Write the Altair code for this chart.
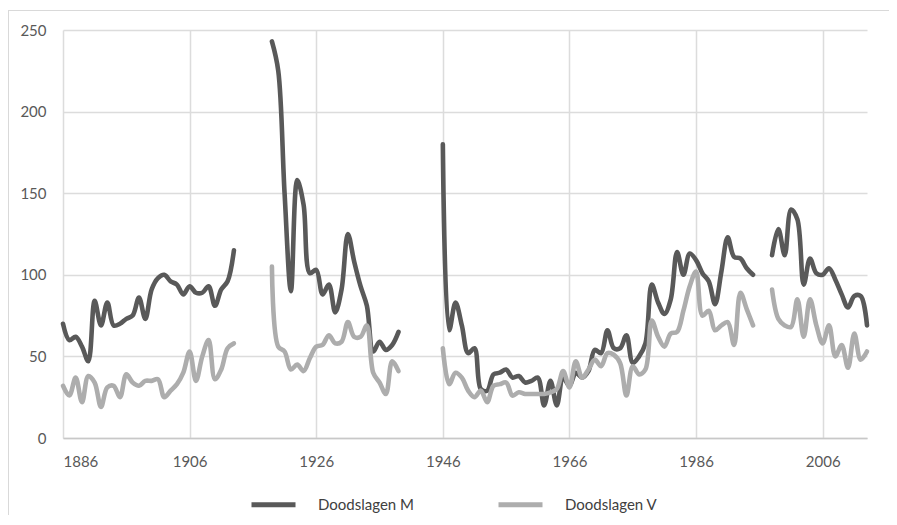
import altair as alt
import pandas as pd

SERIES = ["Doodslagen M", "Doodslagen V"]
COLORS = ["#595959", "#adadad"]

# periods with data (gaps in between)
PERIODS = [(1886, 1913), (1919, 1939), (1946, 1995), (1998, 2013)]

M_1 = [70, 60, 62, 56, 47, 84, 69, 83, 69, 70, 73, 75, 86, 73, 91, 98, 100, 96, 94, 88,
       93, 89, 89, 93, 81, 91, 96, 115]
M_2 = [243, 225, 150, 90, 158, 143, 101, 103, 88, 94, 77, 91, 125, 108, 93, 81, 53, 59, 54, 57, 65]
M_3 = [180, 66, 83, 69, 52, 55, 30, 29, 39, 40, 42, 37, 38, 34, 35, 37, 20, 35, 20, 37,
       32, 40, 37, 41, 54, 52, 66, 55, 55, 63, 46, 50, 58, 94, 83, 76, 85, 114, 100, 113,
       109, 101, 96, 82, 102, 123, 111, 110, 104, 100]
M_4 = [112, 128, 112, 140, 134, 94, 110, 101, 100, 104, 97, 88, 80, 87, 87, 69]

V_1 = [32, 26, 37, 22, 38, 34, 19, 31, 32, 25, 39, 34, 32, 35, 35, 36, 25, 29, 33, 40,
       53, 35, 50, 60, 36, 42, 55, 58]
V_2 = [105, 56, 53, 42, 45, 41, 49, 56, 57, 63, 58, 59, 71, 62, 62, 69, 40, 34, 27, 47, 41]
V_3 = [55, 33, 40, 37, 29, 25, 29, 22, 32, 33, 34, 26, 28, 27, 27, 27, 27, 28, 30, 41,
       31, 47, 37, 42, 48, 44, 52, 51, 46, 26, 44, 39, 42, 72, 62, 56, 64, 65, 78, 93,
       102, 75, 78, 66, 69, 71, 57, 89, 79, 69]
V_4 = [91, 73, 69, 68, 85, 62, 85, 69, 58, 69, 50, 57, 43, 64, 48, 53]

M_PARTS = [M_1, M_2, M_3, M_4]
V_PARTS = [V_1, V_2, V_3, V_4]

X_TICKS = [1886, 1906, 1926, 1946, 1966, 1986, 2006]
Y_TICKS = [0, 50, 100, 150, 200, 250]

rows = []
for seg, ((a, b), m, v) in enumerate(zip(PERIODS, M_PARTS, V_PARTS)):
    yrs = list(range(a, b + 1))
    assert len(yrs) == len(m) == len(v), (a, b, len(m), len(v))
    for yr, mv, vv in zip(yrs, m, v):
        rows.append({"jaar": yr, "waarde": mv, "reeks": SERIES[0], "deel": seg})
        rows.append({"jaar": yr, "waarde": vv, "reeks": SERIES[1], "deel": seg})
df = pd.DataFrame(rows)

color_scale = alt.Scale(domain=SERIES, range=COLORS)

base = alt.Chart(df).mark_line(
    interpolate="catmull-rom", strokeWidth=4.6, strokeCap="round", strokeJoin="round"
).encode(
    x=alt.X("jaar:Q",
            scale=alt.Scale(domain=[1886, 2013], nice=False, zero=False),
            axis=alt.Axis(values=X_TICKS, format="d", title=None, grid=True, ticks=False,
                          labelPadding=16, domainColor="#c8c8c8", domainWidth=1.5,
                          gridColor="#dcdcdc", gridWidth=1.5)),
    y=alt.Y("waarde:Q",
            scale=alt.Scale(domain=[0, 250], nice=False),
            axis=alt.Axis(values=Y_TICKS, title=None, domain=False, ticks=False,
                          labelPadding=17, gridColor="#dcdcdc", gridWidth=1.5)),
    color=alt.Color("reeks:N", scale=color_scale,
                    legend=alt.Legend(title=None, orient="none", legendX=186, legendY=450,
                                      direction="horizontal", symbolType="stroke",
                                      symbolSize=1936, symbolStrokeWidth=5,
                                      labelOffset=20, columnPadding=74,
                                      labelFont="Lato", labelFontSize=15,
                                      labelColor="#404040")),
    detail="deel:N",
)

line_m = base.transform_filter(alt.datum.reeks == SERIES[0])
line_v = base.transform_filter(alt.datum.reeks == SERIES[1])

frame = pd.DataFrame({"k": [0]})
border_left = alt.Chart(frame).mark_rule(color="#d9d9d9", strokeWidth=1, clip=False).encode(
    x=alt.value(-54.5), y=alt.value(-20), y2=alt.value(490))
border_top = alt.Chart(frame).mark_rule(color="#d9d9d9", strokeWidth=1, clip=False).encode(
    x=alt.value(-55), x2=alt.value(830), y=alt.value(-19.5))

chart = alt.layer(border_left, border_top, line_m, line_v).properties(
    width=804, height=408,
    autosize=alt.AutoSizeParams(type="none"),
    padding={"left": 55, "top": 22, "right": 22, "bottom": 77},
).configure_axis(
    labelFont="Lato", labelFontSize=15, labelColor="#595959"
).configure_view(stroke="transparent")

chart.save("out.html", embed_options={"renderer": "svg", "actions": False})
